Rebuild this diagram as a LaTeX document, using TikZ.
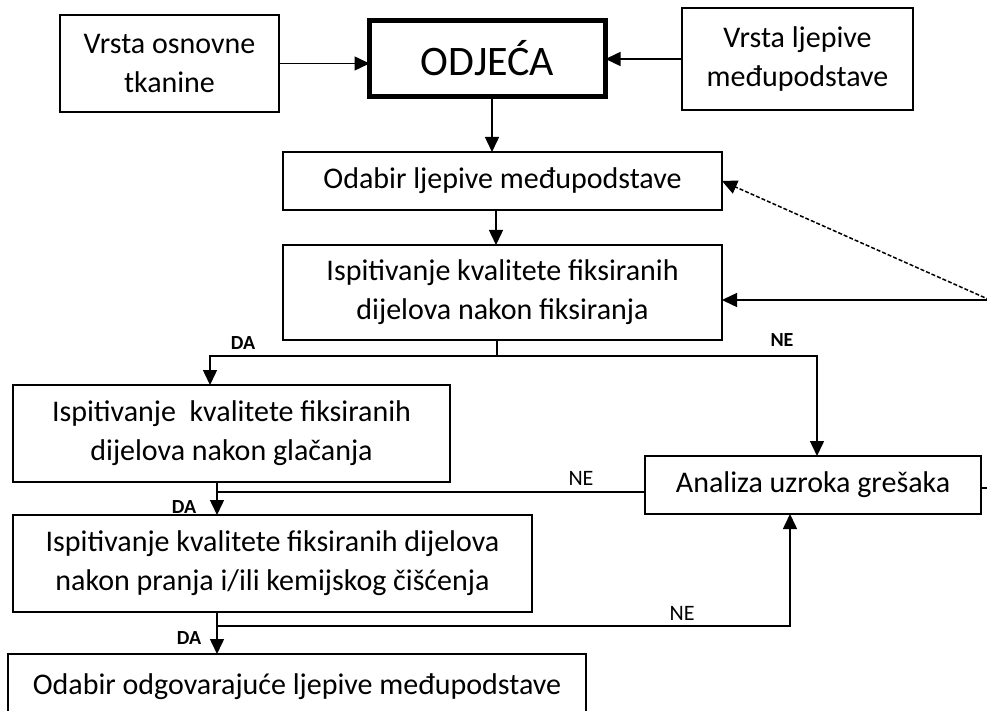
\documentclass[tikz,border=0pt]{standalone}
\usepackage{fontspec}
\setmainfont{Carlito}
\usetikzlibrary{arrows.meta}
\begin{document}
\begin{tikzpicture}[x=1pt,y=-1pt,
  box/.style={draw,line width=1.5pt,inner sep=0pt,outer sep=0pt,align=center,font=\fontsize{30}{39}\selectfont},
  arr/.style={line width=1.5pt,-{Triangle[length=15pt,width=14pt]}},
  ln/.style={line width=1.5pt},
  lblb/.style={font=\bfseries\fontsize{20}{20}\selectfont,inner sep=0pt},
  lbl/.style={font=\fontsize{22}{22}\selectfont,inner sep=0pt}]
\useasboundingbox (0,0) rectangle (987,711);
\clip (0,0) rectangle (987,711);
% nodes
\node[box,minimum width=219pt,minimum height=97pt] (tk) at (169.5,63.5) {Vrsta osnovne\\tkanine};
\node[box,line width=5pt,minimum width=236pt,minimum height=76pt,font=\fontsize{42}{48}\selectfont] (odj) at (487.5,58.5) {ODJEĆA};
\node[box,minimum width=231pt,minimum height=102pt] (lj) at (797.5,59) {Vrsta ljepive\\međupodstave};
\node[box,minimum width=439pt,minimum height=58pt] (b2) at (502.5,181) {Odabir ljepive međupodstave};
\node[box,minimum width=439pt,minimum height=95pt] (b3) at (502.5,292.5) {Ispitivanje kvalitete fiksiranih\\dijelova nakon fiksiranja};
\node[box,minimum width=437pt,minimum height=97pt] (b4) at (231.5,433.5) {Ispitivanje\ \ kvalitete fiksiranih\\dijelova nakon glačanja};
\node[box,minimum width=336pt,minimum height=58pt] (an) at (813,485) {Analiza uzroka grešaka};
\node[box,minimum width=519pt,minimum height=97pt] (b5) at (272.5,563.5) {Ispitivanje kvalitete fiksiranih dijelova\\nakon pranja i/ili kemijskog čišćenja};
\node[box,minimum width=578pt,minimum height=66pt] (b6) at (297,687) {Odabir odgovarajuće ljepive međupodstave};
% helper coordinates
\coordinate (c1) at (492,0);
\coordinate (c2) at (496,0);
\coordinate (j1) at (497,356);
\coordinate (d1) at (210,356);
\coordinate (n1) at (817,356);
\coordinate (j2) at (217,492);
\coordinate (j3) at (217,626);
\coordinate (n3) at (790,626);
\coordinate (r1) at (990,488);
\coordinate (r2) at (990,300);
% connectors
\draw[arr] (tk.east) -- (tk.east -| odj.west);
\draw[arr] (lj.west) -- (lj.west -| odj.east);
\draw[arr] (odj.south -| c1) -- (b2.north -| c1);
\draw[arr] (b2.south -| c2) -- (b3.north -| c2);
\draw[ln] (b3.south -| j1) -- (j1);
\draw[arr] (j1) -- (d1) -- (d1 |- b4.north);
\draw[arr] (j1) -- (n1) -- (n1 |- an.north);
\draw[arr] (b4.south -| j2) -- (j2 |- b5.north);
\draw[ln] (j2) -- (j2 -| an.west);
\draw[arr] (b5.south -| j3) -- (j3 |- b6.north);
\draw[arr] (j3) -- (n3) -- (n3 |- an.south);
\draw[ln] (an.east |- r1) -- (r1);
\draw[arr] (r2) -- (r2 -| b3.east);
\draw[arr,dash pattern=on 4pt off 2pt] (r2) -- (b2.east);
% labels
\node[lblb] (la1) at (243,343) {DA};
\node[lblb] (la2) at (782,340) {NE};
\node[lbl] (la3) at (581,478) {NE};
\node[lblb] (la4) at (184,507) {DA};
\node[lbl] (la5) at (682,613) {NE};
\node[lblb] (la6) at (189,638) {DA};
\end{tikzpicture}
\end{document}
